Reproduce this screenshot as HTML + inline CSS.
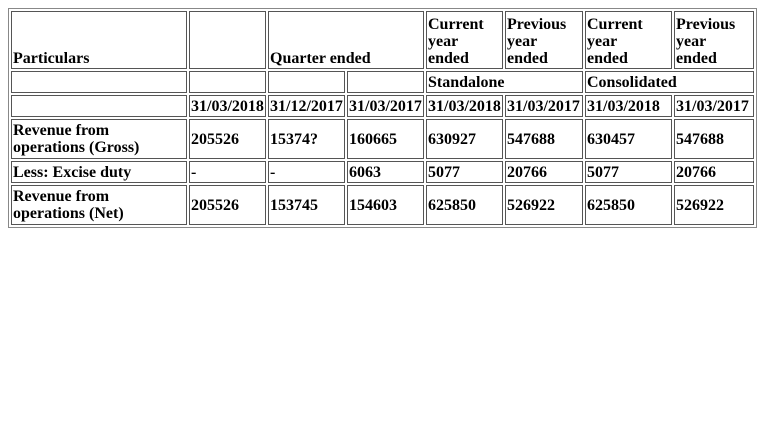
<!DOCTYPE html>
<html><head><meta charset="utf-8">
<style>
body{margin:8px;background:#fff;}
table{width:748px;border:1px solid #888;border-spacing:2px;table-layout:fixed;border-collapse:separate;font-family:"Liberation Serif",serif;font-weight:bold;font-size:16px;line-height:17px;color:#000;}
td{border:1px solid #555;padding:1px;box-sizing:border-box;vertical-align:middle;overflow:hidden;white-space:nowrap;}
tr.h1 td{vertical-align:bottom;height:58px;}
tr.s td{height:22px;}
tr.t td{height:40px;}
</style></head><body>
<table>
<colgroup><col style="width:176px"><col style="width:77px"><col style="width:77px"><col style="width:77px"><col style="width:77px"><col style="width:78px"><col style="width:87px"><col style="width:80px"></colgroup>
<tr class="h1">
<td>Particulars</td>
<td></td>
<td colspan="2">Quarter ended</td>
<td>Current<br>year<br>ended</td>
<td>Previous<br>year<br>ended</td>
<td>Current<br>year<br>ended</td>
<td>Previous<br>year<br>ended</td>
</tr>
<tr class="s">
<td></td><td></td><td></td><td></td>
<td colspan="2">Standalone</td>
<td colspan="2">Consolidated</td>
</tr>
<tr class="s">
<td></td>
<td>31/03/2018</td>
<td>31/12/2017</td>
<td>31/03/2017</td>
<td>31/03/2018</td>
<td>31/03/2017</td>
<td>31/03/2018</td>
<td>31/03/2017</td>
</tr>
<tr class="t">
<td>Revenue from<br>operations (Gross)</td>
<td>205526</td>
<td>15374?</td>
<td>160665</td>
<td>630927</td>
<td>547688</td>
<td>630457</td>
<td>547688</td>
</tr>
<tr class="s">
<td>Less: Excise duty</td>
<td>-</td>
<td>-</td>
<td>6063</td>
<td>5077</td>
<td>20766</td>
<td>5077</td>
<td>20766</td>
</tr>
<tr class="t">
<td>Revenue from<br>operations (Net)</td>
<td>205526</td>
<td>153745</td>
<td>154603</td>
<td>625850</td>
<td>526922</td>
<td>625850</td>
<td>526922</td>
</tr>
</table>
</body></html>
